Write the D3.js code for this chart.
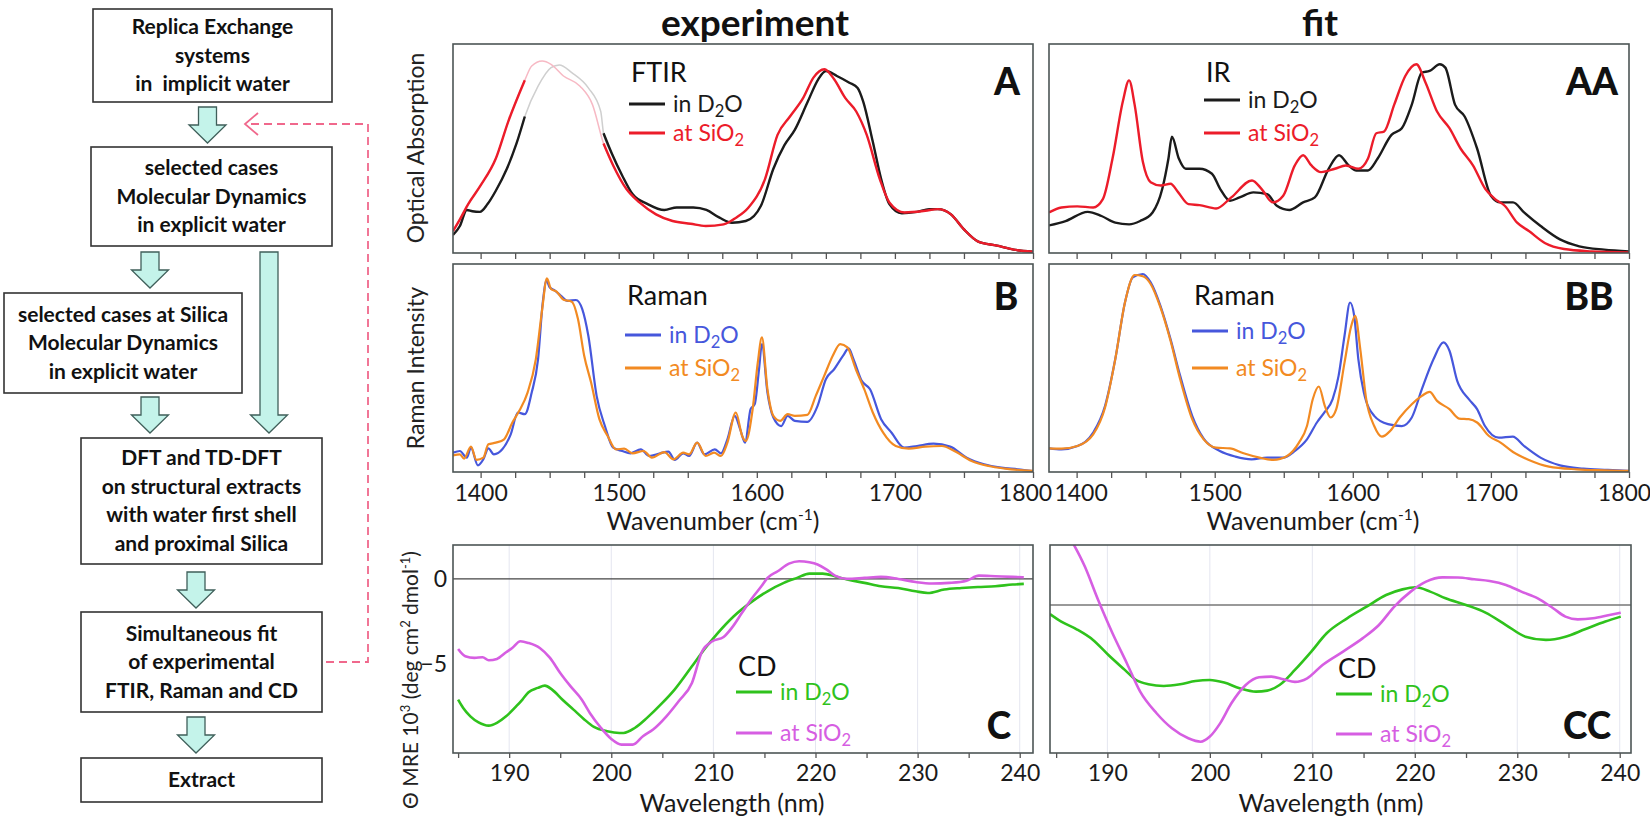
<!DOCTYPE html>
<html>
<head>
<meta charset="utf-8">
<script src="https://cdn.jsdelivr.net/npm/d3@7"></script>
<style>
  body { margin: 0; background: #fff; }
  svg text { font-family: Lato, "Open Sans", sans-serif; }
</style>
</head>
<body>
<svg id="fig" width="1650" height="821"></svg>
<script>
// ---- data ----
// wavenumber axis (cm-1) and wavelength axis (nm)
const wnTicks = [1400, 1500, 1600, 1700, 1800];
const nmTicks = [190, 200, 210, 220, 230, 240];
const cdTicks = [0, -5];

// A: FTIR experiment (relative absorption)
const ftirD2O = [[1380,0.086],[1385,0.129],[1390,0.206],[1394,0.2],[1399.5,0.197],[1405,0.234],[1411,0.298],[1419,0.403],[1426,0.524],[1432,0.653],[1441.6,0.798],[1451,0.887],[1457,0.9],[1466,0.863],[1478,0.79],[1487,0.677],[1489,0.573],[1495,0.476],[1502.5,0.371],[1510,0.282],[1521,0.234],[1533,0.206],[1542,0.218],[1554,0.218],[1563.5,0.206],[1573,0.169],[1582,0.145],[1592,0.153],[1603,0.226],[1612,0.403],[1620,0.516],[1627.5,0.589],[1637,0.726],[1644.5,0.831],[1650,0.871],[1658,0.847],[1667,0.815],[1673,0.79],[1677,0.726],[1684,0.532],[1690,0.355],[1696,0.234],[1705,0.19],[1716,0.197],[1725,0.21],[1731,0.21],[1740.6,0.185],[1750,0.113],[1760,0.056],[1774,0.035],[1786,0.016],[1800,0.006]];
const ftirSiO2 = [[1380,0.105],[1385,0.161],[1391,0.234],[1400,0.323],[1411,0.452],[1420,0.629],[1432,0.827],[1437,0.895],[1444.6,0.919],[1451,0.903],[1460,0.847],[1472,0.798],[1481,0.71],[1489,0.524],[1496,0.419],[1505.6,0.306],[1515,0.242],[1527,0.185],[1539,0.153],[1552,0.14],[1563,0.129],[1576,0.137],[1585,0.169],[1594,0.218],[1606,0.355],[1615,0.565],[1624,0.653],[1633.6,0.742],[1641,0.839],[1649,0.879],[1656,0.831],[1664,0.742],[1672,0.677],[1679.6,0.565],[1689,0.355],[1696,0.242],[1707,0.194],[1722,0.202],[1731,0.21],[1740.6,0.185],[1750,0.113],[1760,0.056],[1774,0.035],[1786,0.016],[1800,0.006]];
const ftirFaint = [1432, 1489];

// AA: IR fit
const irD2O = [[1380,0.132],[1392,0.153],[1408,0.197],[1418,0.177],[1428,0.145],[1438,0.137],[1446,0.153],[1455,0.194],[1462,0.306],[1466.5,0.452],[1469,0.556],[1474,0.452],[1479,0.403],[1489,0.403],[1498,0.379],[1504,0.306],[1511,0.25],[1518,0.266],[1528,0.29],[1538,0.282],[1545,0.226],[1554,0.206],[1564,0.242],[1572.5,0.266],[1582.5,0.403],[1590,0.468],[1597,0.419],[1602.6,0.395],[1611,0.395],[1618,0.452],[1628,0.565],[1635.5,0.597],[1642.7,0.71],[1650,0.863],[1655.6,0.871],[1663,0.903],[1667,0.887],[1674,0.71],[1681,0.653],[1690,0.5],[1700,0.274],[1707,0.242],[1716,0.242],[1724,0.194],[1736,0.129],[1750,0.065],[1764,0.032],[1782,0.016],[1800,0.008]];
const irSiO2 = [[1380,0.194],[1389,0.218],[1400.5,0.223],[1412,0.218],[1419,0.258],[1426,0.452],[1433.5,0.726],[1438,0.826],[1442,0.71],[1448,0.435],[1453.6,0.339],[1461,0.323],[1468,0.331],[1473.6,0.29],[1481,0.234],[1489,0.229],[1501,0.213],[1512,0.266],[1527,0.347],[1534,0.306],[1542,0.242],[1549.6,0.274],[1558,0.419],[1564,0.468],[1570,0.419],[1577,0.387],[1587,0.403],[1595,0.419],[1604,0.403],[1611,0.452],[1617,0.573],[1622.6,0.581],[1630,0.71],[1638,0.847],[1646,0.903],[1652.7,0.815],[1661,0.677],[1670,0.597],[1678,0.5],[1687,0.419],[1696,0.306],[1703,0.258],[1710,0.226],[1719,0.145],[1727.5,0.105],[1739,0.048],[1753,0.019],[1773,0.008],[1800,0.003]];

// B: Raman experiment
const ramanD2O = [[1380,0.093],[1385,0.101],[1390,0.069],[1393,0.117],[1398,0.032],[1402,0.061],[1405.6,0.114],[1409.6,0.085],[1415.7,0.109],[1421.8,0.181],[1427,0.286],[1432,0.278],[1437,0.382],[1441.6,0.543],[1445,0.815],[1447.7,0.92],[1450,0.888],[1453.8,0.872],[1458,0.848],[1463,0.823],[1469,0.827],[1473.6,0.783],[1478,0.655],[1484,0.366],[1490,0.221],[1496,0.117],[1502.5,0.101],[1508.6,0.09],[1516,0.109],[1522,0.077],[1530,0.09],[1536,0.098],[1540.6,0.058],[1546.7,0.09],[1551,0.077],[1556.8,0.141],[1562,0.085],[1569.6,0.109],[1574,0.09],[1578.7,0.157],[1584,0.27],[1588,0.205],[1591.5,0.141],[1595.5,0.302],[1598.5,0.326],[1601.6,0.494],[1603.7,0.615],[1607.7,0.382],[1612,0.262],[1617.7,0.221],[1622.3,0.27],[1627.5,0.246],[1636.6,0.241],[1644,0.318],[1650,0.446],[1656,0.494],[1662.5,0.559],[1666.5,0.594],[1670,0.543],[1676,0.438],[1682,0.398],[1690,0.254],[1697.6,0.189],[1706.7,0.117],[1716,0.125],[1728,0.136],[1740,0.122],[1752,0.069],[1764.6,0.037],[1777,0.021],[1789,0.013],[1800,0.004]];
const ramanSiO2 = [[1380,0.08],[1385,0.085],[1388,0.064],[1393,0.122],[1397,0.058],[1402,0.069],[1405.6,0.133],[1411,0.141],[1417,0.157],[1423,0.238],[1428,0.294],[1434,0.382],[1440,0.543],[1444.6,0.783],[1448,0.931],[1451,0.88],[1455,0.867],[1460,0.828],[1466,0.819],[1470.5,0.735],[1475,0.559],[1480,0.43],[1486,0.254],[1492,0.173],[1498,0.109],[1504,0.112],[1510,0.09],[1518,0.101],[1524,0.069],[1533,0.096],[1539.7,0.061],[1546.7,0.093],[1551,0.085],[1556.8,0.141],[1563,0.077],[1569,0.093],[1574,0.077],[1578.7,0.141],[1584.8,0.286],[1589.4,0.173],[1592,0.149],[1597,0.302],[1600.7,0.526],[1603.7,0.647],[1607.7,0.398],[1612,0.27],[1617,0.246],[1622.3,0.278],[1627.5,0.27],[1636.6,0.275],[1642.7,0.366],[1648.8,0.462],[1655,0.559],[1660.4,0.615],[1665.6,0.599],[1671.7,0.494],[1677.8,0.398],[1684,0.286],[1691.5,0.189],[1700.6,0.125],[1710,0.112],[1722,0.122],[1734,0.125],[1743,0.101],[1755.5,0.053],[1767.7,0.029],[1780,0.016],[1800,0.005]];

// BB: Raman fit
const ramanFitD2O = [[1380,0.114],[1389,0.109],[1400.6,0.125],[1412,0.189],[1420.6,0.318],[1428,0.543],[1435,0.815],[1440.7,0.936],[1447.9,0.952],[1453.6,0.912],[1460.7,0.799],[1468,0.639],[1475,0.462],[1483.7,0.27],[1492,0.16],[1503.7,0.101],[1515,0.074],[1526.7,0.061],[1538,0.069],[1549.6,0.069],[1558,0.101],[1566.8,0.157],[1574,0.238],[1579.7,0.289],[1585.4,0.35],[1589.7,0.462],[1594,0.655],[1598,0.815],[1601,0.751],[1604,0.543],[1608,0.382],[1615.5,0.27],[1625.5,0.23],[1635.5,0.221],[1642.7,0.262],[1650,0.398],[1658.5,0.543],[1665.6,0.623],[1670,0.583],[1675.6,0.438],[1684,0.35],[1690,0.302],[1695.7,0.221],[1705.7,0.165],[1715.8,0.17],[1724,0.125],[1735.9,0.069],[1750,0.032],[1767,0.016],[1784.6,0.01],[1800,0.005]];
const ramanFitSiO2 = [[1380,0.114],[1389,0.112],[1400.6,0.125],[1412,0.181],[1420.6,0.31],[1428,0.543],[1435,0.815],[1442,0.947],[1447.9,0.941],[1453.6,0.904],[1460.7,0.791],[1468,0.631],[1475,0.446],[1483.7,0.254],[1492,0.157],[1500.9,0.117],[1511,0.114],[1520.9,0.09],[1532.4,0.069],[1542.4,0.058],[1552.4,0.077],[1561,0.141],[1566.8,0.221],[1571,0.35],[1575.4,0.411],[1579.7,0.318],[1584,0.262],[1588,0.302],[1594,0.526],[1598.9,0.703],[1601.7,0.751],[1605.4,0.591],[1609.7,0.35],[1615.5,0.221],[1621,0.17],[1627,0.197],[1634,0.262],[1642.7,0.326],[1650,0.366],[1655.6,0.385],[1661,0.342],[1670,0.302],[1677,0.257],[1684,0.254],[1690,0.238],[1698.6,0.173],[1707,0.141],[1716,0.096],[1727.5,0.058],[1742,0.026],[1762,0.013],[1782,0.008],[1800,0.005]];

// C: CD experiment (MRE 10^3)
const cdD2O = [[185,-7.04],[185.5,-7.53],[186.2,-8.02],[187,-8.37],[188,-8.56],[188.8,-8.4],[189.7,-8.02],[190.7,-7.43],[191.3,-7.04],[191.9,-6.61],[192.8,-6.36],[193.5,-6.23],[194.2,-6.46],[195.2,-7.04],[196.3,-7.63],[197.3,-8.17],[198.3,-8.64],[199.6,-8.89],[200.8,-8.99],[201.2,-8.99],[202.3,-8.7],[203.5,-8.11],[205,-7.24],[206.2,-6.46],[207.9,-5.1],[209.1,-4.12],[210.3,-3.25],[212,-2.18],[213.6,-1.4],[215.3,-0.72],[216.9,-0.23],[218.2,0.06],[219.4,0.31],[220.7,0.31],[221.9,0.16],[223.1,-0.04],[224.8,-0.23],[226.4,-0.43],[228.1,-0.53],[229.8,-0.72],[231,-0.82],[232.6,-0.62],[234.3,-0.53],[235.9,-0.47],[237.6,-0.43],[239.3,-0.33],[240.4,-0.29]];
const cdSiO2 = [[185,-4.09],[185.7,-4.51],[186.6,-4.61],[187.4,-4.57],[188,-4.75],[188.8,-4.67],[189.7,-4.28],[190.3,-4.03],[191.1,-3.64],[191.9,-3.74],[193,-4.03],[194,-4.61],[195,-5.49],[196,-6.26],[197.1,-7.04],[197.9,-7.82],[199,-8.7],[200,-9.34],[201,-9.67],[202.1,-9.67],[203.1,-9.18],[204.1,-8.79],[205.4,-8.02],[206.6,-7.14],[207.9,-6.07],[208.9,-4.22],[209.9,-3.64],[211,-3.39],[211.8,-2.86],[212.8,-1.98],[213.8,-1.11],[214.7,-0.43],[215.3,0.06],[216.3,0.45],[217.4,0.89],[218.4,1.03],[219.4,0.97],[220.2,0.84],[221.1,0.54],[221.9,0.19],[223.1,0],[224.8,0.06],[226.4,0.12],[228.1,0],[229.8,-0.18],[231.4,-0.27],[233.1,-0.23],[234.8,-0.1],[236,0.19],[237.6,0.16],[239.3,0.12],[240.4,0.1]];

// CC: CD fit (same units, no tick labels)
const cdFitD2O = [[184.4,-0.53],[185.5,-0.97],[187,-1.42],[188.6,-2.04],[190.1,-2.92],[191.7,-3.79],[192.8,-4.38],[194,-4.63],[195.5,-4.73],[197.1,-4.63],[198.6,-4.44],[200,-4.38],[201.4,-4.53],[202.9,-4.86],[204.5,-5.06],[205.6,-5],[206.8,-4.67],[208.3,-3.79],[209.9,-2.72],[211.4,-1.65],[213.4,-0.78],[215.3,-0.1],[217.2,0.58],[218.8,0.91],[220.1,1.03],[221.5,0.78],[223,0.39],[225,0],[226.9,-0.45],[228.9,-1.17],[230.8,-1.85],[232.8,-2.04],[234.7,-1.85],[236.6,-1.42],[238.6,-0.97],[240.1,-0.68]];
const cdFitSiO2 = [[185.9,4.38],[187.8,2.24],[189.1,0.29],[190.5,-1.65],[191.9,-3.4],[193.2,-5.06],[194.8,-6.32],[196.3,-7.2],[197.9,-7.78],[199.1,-7.98],[200,-7.68],[201,-6.91],[202.1,-5.74],[203.5,-4.67],[204.8,-4.22],[206,-4.18],[207.2,-4.34],[208.3,-4.49],[209.5,-4.28],[211,-3.5],[213,-2.72],[214.9,-1.95],[216.5,-1.17],[218,-0.1],[219.6,0.78],[221.1,1.36],[222.7,1.61],[224.2,1.6],[225.8,1.5],[227.3,1.4],[228.9,1.17],[230.4,0.78],[232,0.39],[233.5,-0.19],[234.7,-0.68],[235.9,-0.84],[237.4,-0.78],[239,-0.58],[240.1,-0.45]];

// flowchart boxes
const flowBoxes = [
  { lines: ["Replica Exchange", "systems", "in  implicit water"] },
  { lines: ["selected cases", "Molecular Dynamics", "in explicit water"] },
  { lines: ["selected cases at Silica", "Molecular Dynamics", "in explicit water"] },
  { lines: ["DFT and TD-DFT", "on structural extracts", "with water first shell", "and proximal Silica"] },
  { lines: ["Simultaneous fit", "of experimental", "FTIR, Raman and CD"] },
  { lines: ["Extract"] }
];

// ---- layout ----
const svg = d3.select("#fig");
const colExp = [453, 1033], colFit = [1049, 1629];
const rowA = [44, 253], rowB = [264, 472], rowC = [545, 753];

const C_BLACK = "#1b1b1b", C_RED = "#ec1c2a", C_BLUE = "#4657dc", C_ORANGE = "#f28a22",
      C_GREEN = "#2fc21c", C_MAG = "#d65ee2";

let clipId = 0;

function panel(col, row, xDomain, yDomain) {
  const x = d3.scaleLinear().domain(xDomain).range(col);
  const y = d3.scaleLinear().domain(yDomain).range([row[1], row[0]]);
  const id = "clip" + (clipId++);
  svg.append("clipPath").attr("id", id).append("rect")
    .attr("x", col[0]).attr("y", row[0]).attr("width", col[1] - col[0]).attr("height", row[1] - row[0]);
  const plot = svg.append("g").attr("clip-path", `url(#${id})`);
  const frame = () => svg.append("rect")
    .attr("x", col[0]).attr("y", row[0]).attr("width", col[1] - col[0]).attr("height", row[1] - row[0])
    .attr("fill", "none").attr("stroke", "#4d5555").attr("stroke-width", 1.6);
  return { x, y, plot, frame };
}

function drawLine(p, data, color, width, defined) {
  const line = d3.line().x(d => p.x(d[0])).y(d => p.y(d[1])).curve(d3.curveMonotoneX);
  if (defined) line.defined(defined);
  p.plot.append("path").attr("d", line(data)).attr("fill", "none")
    .attr("stroke", color).attr("stroke-width", width).attr("stroke-linejoin", "round");
}

// shift: nudges for end labels that collide between the two columns
function wnAxis(p, row, withLabels, shift) {
  const ticks = d3.range(1400, 1801, 25);
  const ax = d3.axisBottom(p.x).tickValues(ticks).tickSize(6).tickSizeOuter(0)
    .tickFormat(d => (withLabels && wnTicks.includes(d)) ? d : "");
  const g = svg.append("g").attr("transform", `translate(0,${row[1]})`).call(ax);
  g.select(".domain").remove();
  g.selectAll(".tick line").attr("stroke", "#555").attr("stroke-width", 1.3);
  g.selectAll(".tick text").attr("font-size", 23).attr("fill", "#1a1a1a").attr("dy", "0.85em")
    .style("font-family", "Lato, sans-serif")
    .attr("dx", d => (shift && shift[d]) || 0);
}

function nmAxis(p, row) {
  const ticks = d3.range(185, 241, 5);
  const ax = d3.axisBottom(p.x).tickValues(ticks).tickSize(5).tickSizeOuter(0)
    .tickFormat(d => nmTicks.includes(d) ? d : "");
  const g = svg.append("g").attr("transform", `translate(0,${row[1]})`).call(ax);
  g.select(".domain").remove();
  g.selectAll(".tick line").attr("stroke", "#555").attr("stroke-width", 1.3);
  g.selectAll(".tick text").attr("font-size", 23).attr("fill", "#1a1a1a").attr("dy", "0.85em")
    .style("font-family", "Lato, sans-serif");
}

function subText(g, x, y, parts, color, size, anchor) {
  // parts: [text, "sub"|"sup"|"back"|"backsup"|null]
  const t = g.append("text").attr("x", x).attr("y", y).attr("fill", color)
    .attr("font-size", size).attr("text-anchor", anchor || "start");
  parts.forEach(([s, kind]) => {
    const ts = t.append("tspan").text(s);
    if (kind === "sub") ts.attr("font-size", size * 0.72).attr("dy", size * 0.22);
    else if (kind === "sup") ts.attr("font-size", size * 0.62).attr("dy", -size * 0.4);
    else if (kind === "back") ts.attr("dy", -size * 0.22);
    else if (kind === "backsup") ts.attr("dy", size * 0.4);
  });
  return t;
}

function legend(x0, titleY, title, c1, c2, rowYs) {
  const g = svg.append("g");
  g.append("text").attr("x", x0 + 2).attr("y", titleY).attr("font-size", 27).attr("fill", "#111").text(title);
  const rows = [[c1, c1, [["in D", null], ["2", "sub"], ["O", "back"]]],
                [c2, c2, [["at SiO", null], ["2", "sub"]]]];
  rows.forEach((r, i) => {
    const yy = rowYs[i];
    g.append("line").attr("x1", x0).attr("x2", x0 + 36).attr("y1", yy).attr("y2", yy)
      .attr("stroke", r[0]).attr("stroke-width", 3);
    subText(g, x0 + 44, yy + 8, r[2], r[1], 23);
  });
}

function panelLetter(x, y, s) {
  svg.append("text").attr("x", x).attr("y", y).attr("text-anchor", "middle")
    .attr("font-size", 37).attr("font-weight", 900).attr("fill", "#111").text(s);
}

// ---- A ----
const pA = panel(colExp, rowA, [1380, 1800], [0, 1]);
const faintDef = d => d[0] <= ftirFaint[0] || d[0] >= ftirFaint[1];
drawLine(pA, ftirD2O, "#cfcfcf", 1.5);
drawLine(pA, ftirSiO2, "#f7b9c4", 1.5);
drawLine(pA, ftirD2O, C_BLACK, 2.4, faintDef);
drawLine(pA, ftirSiO2, C_RED, 2.4, faintDef);
pA.frame();
wnAxis(pA, rowA, false);
legend(629, 82, "FTIR", C_BLACK, C_RED, [104, 133]);
panelLetter(1007, 95, "A");

// ---- AA ----
const pAA = panel(colFit, rowA, [1380, 1800], [0, 1]);
drawLine(pAA, irD2O, C_BLACK, 2.4);
drawLine(pAA, irSiO2, C_RED, 2.4);
pAA.frame();
wnAxis(pAA, rowA, false);
legend(1204, 82, "IR", C_BLACK, C_RED, [100, 133]);
panelLetter(1592, 95, "AA");

// ---- B ----
const pB = panel(colExp, rowB, [1380, 1800], [0, 1]);
drawLine(pB, ramanD2O, C_BLUE, 2.2);
drawLine(pB, ramanSiO2, C_ORANGE, 2.2);
pB.frame();
wnAxis(pB, rowB, true, { 1800: -8 });
legend(625, 305, "Raman", C_BLUE, C_ORANGE, [335, 368]);
panelLetter(1006, 310, "B");

// ---- BB ----
const pBB = panel(colFit, rowB, [1380, 1800], [0, 1]);
drawLine(pBB, ramanFitD2O, C_BLUE, 2.2);
drawLine(pBB, ramanFitSiO2, C_ORANGE, 2.2);
pBB.frame();
wnAxis(pBB, rowB, true, { 1400: 4, 1800: -5 });
legend(1192, 305, "Raman", C_BLUE, C_ORANGE, [331, 368]);
panelLetter(1589, 310, "BB");

// ---- C ----
const pC = panel(colExp, rowC, [184.5, 241.3], [-10.16, 1.98]);
nmTicks.forEach(t => pC.plot.append("line").attr("x1", pC.x(t)).attr("x2", pC.x(t))
  .attr("y1", rowC[0]).attr("y2", rowC[1]).attr("stroke", "#e4e6f0").attr("stroke-width", 1));
pC.plot.append("line").attr("x1", colExp[0]).attr("x2", colExp[1]).attr("y1", pC.y(0)).attr("y2", pC.y(0))
  .attr("stroke", "#444").attr("stroke-width", 1.4);
drawLine(pC, cdD2O, C_GREEN, 2.6);
drawLine(pC, cdSiO2, C_MAG, 2.6);
pC.frame();
nmAxis(pC, rowC);
const yAxC = svg.append("g").attr("transform", `translate(${colExp[0]},0)`)
  .call(d3.axisLeft(pC.y).tickValues(cdTicks).tickSize(0).tickPadding(6).tickFormat(d3.format("d")));
yAxC.select(".domain").remove();
yAxC.selectAll(".tick text").attr("font-size", 23).attr("fill", "#1a1a1a").style("font-family", "Lato, sans-serif");
legend(736, 676, "CD", C_GREEN, C_MAG, [692, 733]);
panelLetter(999, 739, "C");

// ---- CC ----
const pCC = panel([1050, 1631], rowC, [184.4, 241.1], [-8.64, 3.5]);
nmTicks.forEach(t => pCC.plot.append("line").attr("x1", pCC.x(t)).attr("x2", pCC.x(t))
  .attr("y1", rowC[0]).attr("y2", rowC[1]).attr("stroke", "#e4e6f0").attr("stroke-width", 1));
pCC.plot.append("line").attr("x1", 1050).attr("x2", 1631).attr("y1", pCC.y(0)).attr("y2", pCC.y(0))
  .attr("stroke", "#777").attr("stroke-width", 1.4);
drawLine(pCC, cdFitD2O, C_GREEN, 2.6);
drawLine(pCC, cdFitSiO2, C_MAG, 2.6);
pCC.frame();
nmAxis(pCC, rowC);
legend(1336, 678, "CD", C_GREEN, C_MAG, [694, 734]);
panelLetter(1587, 739, "CC");

// ---- titles and axis labels ----
svg.append("text").attr("x", 755).attr("y", 36).attr("text-anchor", "middle")
  .attr("font-size", 37).attr("font-weight", 700).attr("fill", "#111").text("experiment");
svg.append("text").attr("x", 1320).attr("y", 36).attr("text-anchor", "middle")
  .attr("font-size", 37).attr("font-weight", 700).attr("fill", "#111").text("fit");

function ylab(x, y, parts, size) {
  const g = svg.append("g").attr("transform", `translate(${x},${y}) rotate(-90)`);
  subText(g, 0, 0, parts, "#222", size, "middle");
}
ylab(424, 148, [["Optical Absorption", null]], 23);
ylab(424, 368, [["Raman Intensity", null]], 23);
ylab(418, 680, [["\u0398 MRE  10", null], ["3", "sup"], [" (deg cm", "backsup"], ["2", "sup"], [" dmol", "backsup"], ["-1", "sup"], [")", "backsup"]], 21);

[713, 1313].forEach(cx => {
  subText(svg, cx, 530, [["Wavenumber (cm", null], ["-1", "sup"], [")", "backsup"]], "#1a1a1a", 25, "middle");
});
svg.append("text").attr("x", 732).attr("y", 812).attr("text-anchor", "middle")
  .attr("font-size", 25).attr("fill", "#1a1a1a").text("Wavelength (nm)");
svg.append("text").attr("x", 1331).attr("y", 812).attr("text-anchor", "middle")
  .attr("font-size", 25).attr("fill", "#1a1a1a").text("Wavelength (nm)");

// ---- flowchart ----
const boxGeom = [[93, 9, 239, 93], [91, 147, 241, 99], [4, 293, 238, 100], [81, 438, 241, 126], [81, 612, 241, 100], [81, 758, 241, 44]];
const lineStep = 28.5;
flowBoxes.forEach((b, i) => {
  const [bx, by, bw, bh] = boxGeom[i];
  svg.append("rect").attr("x", bx).attr("y", by).attr("width", bw).attr("height", bh)
    .attr("fill", "#fff").attr("stroke", "#333").attr("stroke-width", 1.6);
  const cy = by + bh / 2 - (b.lines.length - 1) * lineStep / 2;
  b.lines.forEach((s, j) => {
    svg.append("text").attr("x", bx + bw / 2).attr("y", cy + j * lineStep + 7)
      .attr("text-anchor", "middle").attr("font-size", 21).attr("font-weight", 700)
      .attr("fill", "#111").attr("xml:space", "preserve").text(s);
  });
});

// block arrows: [centre x, top, tip, head start]
const blockArrows = [[207.5, 107, 143, 125], [150, 252, 288, 270], [269, 252, 433, 415], [150, 397, 433, 415], [196, 572, 608, 590], [196, 717, 753, 735]];
blockArrows.forEach(([cx, y0, y1, yh]) => {
  const sw = 9, hw = 18.5;
  const pts = [[cx - sw, y0], [cx + sw, y0], [cx + sw, yh], [cx + hw, yh], [cx, y1], [cx - hw, yh], [cx - sw, yh]];
  svg.append("path").attr("d", d3.line()(pts) + "Z")
    .attr("fill", "#c4f3ea").attr("stroke", "#3f5f5a").attr("stroke-width", 1.3).attr("stroke-linejoin", "miter");
});

// feedback dashed arrow
svg.append("path").attr("d", "M326,662 H368 V124 H247")
  .attr("fill", "none").attr("stroke", "#f0688c").attr("stroke-width", 1.8).attr("stroke-dasharray", "8,5");
svg.append("path").attr("d", "M258,113 L245,124 L258,135")
  .attr("fill", "none").attr("stroke", "#f0688c").attr("stroke-width", 1.8);
</script>
</body>
</html>
